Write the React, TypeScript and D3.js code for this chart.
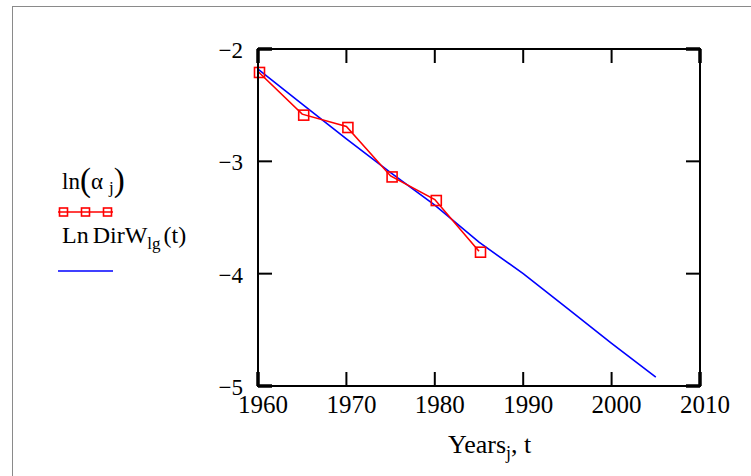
import React from "react";
import * as d3 from "d3";

// Observed log-coefficients at sampled years
const years = [1960, 1965, 1970, 1975, 1980, 1985];
const lnAlpha = [-2.2, -2.58, -2.69, -3.13, -3.34, -3.8];

// Fitted trend LnDirW_lg(t)
const fitYears = [1960, 1965, 1970, 1975, 1980, 1985, 1990, 1995, 2000, 2005];
const lnDirW = [-2.18, -2.49, -2.8, -3.1, -3.39, -3.72, -4.0, -4.31, -4.62, -4.92];

// Axis ticks
const xTicks = [1960, 1970, 1980, 1990, 2000, 2010];
const yTicks = [-2, -3, -4, -5];

const W = 751;
const H = 476;
const FONT = "'Liberation Serif', 'Times New Roman', serif";

export default function App() {
  const x = d3.scaleLinear().domain([1960, 2010]).range([258, 700]);
  const y = d3.scaleLinear().domain([-5, -2]).range([386, 49]);
  const [x0, x1] = x.range();
  const [y0, y1] = y.range();
  const tickLen = 14;

  const obs = years.map((t, i) => [t, lnAlpha[i]] as [number, number]);
  const fit = fitYears.map((t, i) => [t, lnDirW[i]] as [number, number]);
  const line = d3
    .line<[number, number]>()
    .x((d) => x(d[0]))
    .y((d) => y(d[1]));

  const sq = 10;
  const legendX0 = 58;
  const legendX1 = 113;
  const legendMarks = [0.1, 0.5, 0.9].map((f) => legendX0 + f * (legendX1 - legendX0));

  return (
    <svg
      width={W}
      height={H}
      style={{ position: "absolute", left: 0, top: 0, background: "#fff" }}
      fontFamily={FONT}
    >
      <rect x={0} y={0} width={W} height={H} fill="#fff" />
      {/* outer region frame */}
      <rect x={12.5} y={6.5} width={W + 20} height={H + 20} fill="none" stroke="#8a8a8a" strokeWidth={1} />

      {/* fitted trend */}
      <path d={line(fit) ?? ""} fill="none" stroke="#0000ff" strokeWidth={1.6} />

      {/* observed values */}
      <path d={line(obs) ?? ""} fill="none" stroke="#ff0000" strokeWidth={1.6} />
      {obs.map((d, i) => (
        <rect
          key={i}
          x={x(d[0]) - sq / 2 + 1.5}
          y={y(d[1]) - sq / 2 + 1}
          width={sq}
          height={sq}
          fill="none"
          stroke="#ff0000"
          strokeWidth={1.6}
        />
      ))}

      {/* plot box */}
      <rect x={x0} y={y1} width={x1 - x0} height={y0 - y1} fill="none" stroke="#000" strokeWidth={2} />

      {/* x ticks, bottom and top */}
      {xTicks.map((t) => {
        const end = t === xTicks[0] || t === xTicks[xTicks.length - 1];
        return (
          <g key={t} stroke="#000" strokeWidth={end ? 3.5 : 2}>
            <line x1={x(t)} x2={x(t)} y1={y0} y2={y0 - tickLen} />
            <line x1={x(t)} x2={x(t)} y1={y1} y2={y1 + tickLen} />
          </g>
        );
      })}
      {/* y ticks, left and right */}
      {yTicks.map((v) => {
        const end = v === yTicks[0] || v === yTicks[yTicks.length - 1];
        return (
          <g key={v} stroke="#000" strokeWidth={end ? 3.5 : 2}>
            <line x1={x0} x2={x0 + tickLen} y1={y(v)} y2={y(v)} />
            <line x1={x1} x2={x1 - tickLen} y1={y(v)} y2={y(v)} />
          </g>
        );
      })}

      {/* tick labels */}
      {xTicks.map((t) => (
        <text key={t} x={x(t) + 5} y={413} textAnchor="middle" fontSize={25} fill="#000">
          {t}
        </text>
      ))}
      {yTicks.map((v) => (
        <text key={v} x={243} y={y(v) + 9} textAnchor="end" fontSize={23} fill="#000">
          {"\u2212" + Math.abs(v)}
        </text>
      ))}

      {/* axis title */}
      <text x={448} y={453} fontSize={26} fill="#000">
        Years
        <tspan fontSize={18} dy={6}>j</tspan>
        <tspan fontSize={26} dy={-6}>, t</tspan>
      </text>

      {/* legend */}
      <text x={62} y={189} fontSize={23} fill="#000">
        ln
        <tspan fontSize={33} dy={2}>(</tspan>
        <tspan fontSize={23} dy={-2}>α</tspan>
        <tspan fontSize={17} dx={6} dy={4}>j</tspan>
        <tspan fontSize={33} dy={-2}>)</tspan>
      </text>
      <line x1={legendX0} x2={legendX1} y1={212} y2={212} stroke="#ff0000" strokeWidth={1.6} />
      {legendMarks.map((cx, i) => (
        <rect key={i} x={cx - 4} y={212 - 4} width={8} height={8} fill="none" stroke="#ff0000" strokeWidth={1.6} />
      ))}
      <text x={62} y={243} fontSize={24} fill="#000">
        Ln
        <tspan dx={4}>DirW</tspan>
        <tspan fontSize={17} dy={6}>lg</tspan>
        <tspan fontSize={24} dx={3} dy={-6}>(t)</tspan>
      </text>
      <line x1={legendX0} x2={legendX1} y1={271} y2={271} stroke="#0000ff" strokeWidth={1.6} />
    </svg>
  );
}
